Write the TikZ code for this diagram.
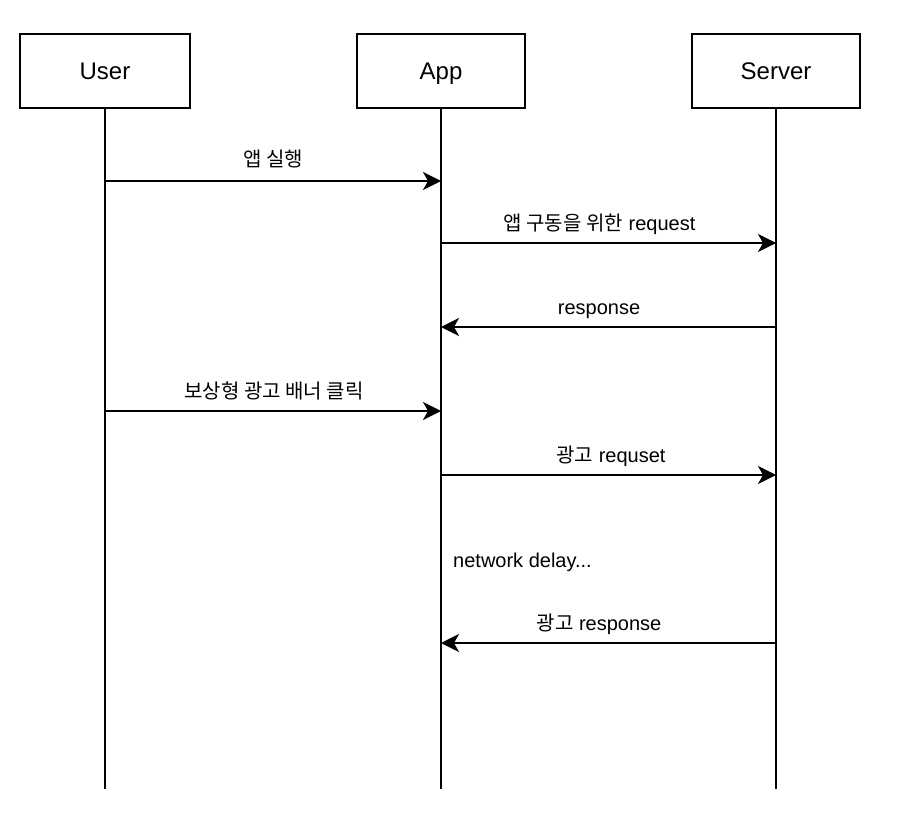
\documentclass[tikz,border=0pt]{standalone}
\usepackage{fontspec}
\setmainfont{Liberation Sans}
\newfontfamily\kr{Noto Sans CJK KR}
\usetikzlibrary{arrows.meta}
\tikzset{
  actor/.style={draw, line width=1.6pt, minimum width=170pt, minimum height=74pt, inner sep=0pt, text height=17pt, text depth=0pt, font=\fontsize{24}{28}\selectfont},
  life/.style={line width=1.6pt},
  msg/.style={line width=2pt, -{Stealth[length=18pt, width=18pt, inset=5pt]}},
  lbl/.style={font=\fontsize{20}{24}\selectfont, inner sep=0pt, anchor=base}
}
\begin{document}
\begin{tikzpicture}[x=1pt, y=-1pt]
\useasboundingbox (0,0) rectangle (910,824);
\node[actor] (user) at (105,71) {User};
\node[actor, minimum width=168pt] (app) at (441,71) {App};
\node[actor, minimum width=168pt] (server) at (776,71) {Server};
\coordinate (ue) at (105,789);
\coordinate (ae) at (441,789);
\coordinate (se) at (776,789);
\draw[life] (user.south) -- (ue);
\draw[life] (app.south) -- (ae);
\draw[life] (server.south) -- (se);
% message points
\foreach \n/\y in {1/181, 2/243, 3/327, 4/411, 5/475, 7/643}{
  \coordinate (u\n) at (105,\y);
  \coordinate (a\n) at (441,\y);
  \coordinate (s\n) at (776,\y);
}
\draw[msg] (u1) -- (a1);
\draw[msg] (a2) -- (s2);
\draw[msg] (s3) -- (a3);
\draw[msg] (u4) -- (a4);
\draw[msg] (a5) -- (s5);
\draw[msg] (s7) -- (a7);
\node[lbl] (l1) at (273,167) {{\kr 앱 실행}};
\node[lbl] (l2) at (599.5,230) {{\kr 앱 구동을 위한} request};
\node[lbl] (l3) at (599,314) {response};
\node[lbl] (l4) at (274,398) {{\kr 보상형 광고 배너 클릭}};
\node[lbl] (l5) at (611,462) {{\kr 광고} requset};
\node[lbl, anchor=base west] (l6) at (453,567) {network delay...};
\node[lbl] (l7) at (599,630) {{\kr 광고} response};
\end{tikzpicture}
\end{document}
